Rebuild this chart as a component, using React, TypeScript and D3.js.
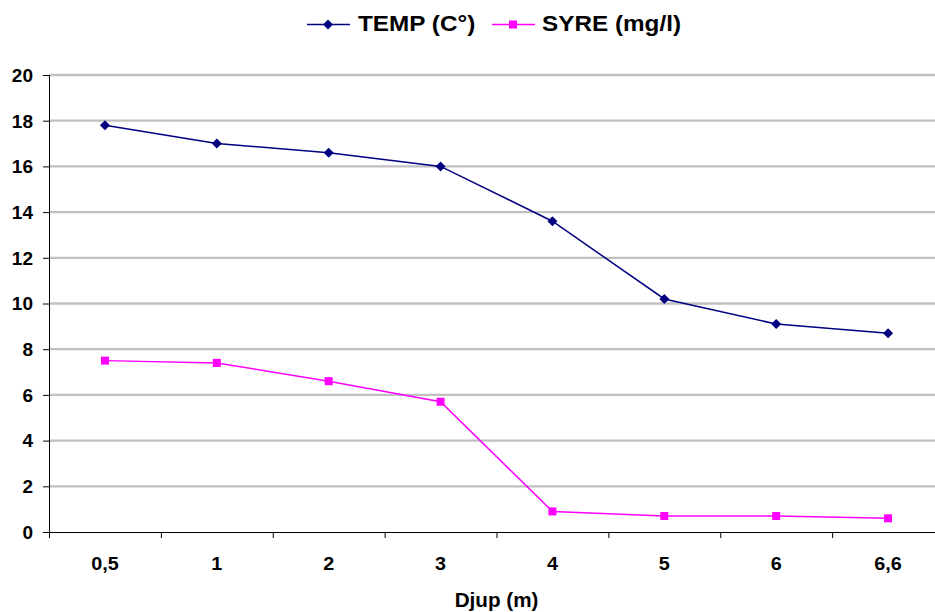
import React from "react";
import * as d3 from "d3";

const categories = ["0,5", "1", "2", "3", "4", "5", "6", "6,6"];
const tempValues = [17.8, 17.0, 16.6, 16.0, 13.6, 10.2, 9.1, 8.7];
const syreValues = [7.5, 7.4, 6.6, 5.7, 0.9, 0.7, 0.7, 0.6];
const yTicks = [0, 2, 4, 6, 8, 10, 12, 14, 16, 18, 20];
const seriesNames = ["TEMP (C°)", "SYRE (mg/l)"];
const xTitle = "Djup (m)";

const W = 935, H = 612;
const left = 49, right = 944, top = 75, bottom = 532;
const font = "'Liberation Sans', Arial, sans-serif";

function T(props: { x: number; y: number; sx: number; size: number; anchor?: string; dy?: string; children: React.ReactNode }) {
  const { x, y, sx, size, anchor, dy, children } = props;
  return (
    <g transform={`translate(${x},${y}) scale(${sx},1)`}>
      <text x={0} y={0} dy={dy} textAnchor={anchor || "start"} fontSize={size} fontWeight="bold">{children}</text>
    </g>
  );
}

export default function App() {
  const x = d3.scaleBand<string>().domain(categories).range([left, right]);
  const y = d3.scaleLinear().domain([0, 20]).range([bottom, top]);
  const cx = (c: string) => (x(c) as number) + x.bandwidth() / 2;
  const line = d3.line<number>().x((_, i) => cx(categories[i])).y((v) => y(v));
  const tickXs = categories.map((c) => x(c) as number).concat([right]);
  const diamond = (px: number, py: number, r: number) =>
    `M${px},${py - r}L${px + r},${py}L${px},${py + r}L${px - r},${py}Z`;
  return (
    <svg width={W} height={H} style={{ position: "absolute", left: 0, top: 0, background: "#fff" }} fontFamily={font}>
      {yTicks.filter((t) => t > 0).map((t) => (
        <line key={"g" + t} x1={left} x2={right} y1={y(t)} y2={y(t)} stroke="#C0C0C0" strokeWidth={2.3} />
      ))}
      <line x1={left + 0.5} x2={left + 0.5} y1={top} y2={bottom} stroke="#000" strokeWidth={1} />
      <line x1={left} x2={right} y1={bottom + 0.5} y2={bottom + 0.5} stroke="#000" strokeWidth={1} />
      {yTicks.map((t) => (
        <g key={"y" + t}>
          <line x1={43} x2={left} y1={y(t) + 0.5} y2={y(t) + 0.5} stroke="#000" />
          <T x={33} y={y(t)} dy="0.36em" sx={1.0} size={19} anchor="end">{t}</T>
        </g>
      ))}
      {tickXs.map((tx, i) => (
        <line key={"xt" + i} x1={tx + 0.5} x2={tx + 0.5} y1={bottom} y2={bottom + 6} stroke="#000" />
      ))}
      {categories.map((c) => (
        <T key={"xl" + c} x={cx(c)} y={569.5} sx={1.07} size={18.5} anchor="middle">{c}</T>
      ))}
      <T x={(left + right) / 2} y={606.5} sx={1.06} size={19.5} anchor="middle">{xTitle}</T>

      <path d={line(tempValues) as string} fill="none" stroke="#000080" strokeWidth={1.5} />
      {tempValues.map((v, i) => (
        <path key={"td" + i} d={diamond(cx(categories[i]), y(v), 5)} fill="#000080" />
      ))}
      <path d={line(syreValues) as string} fill="none" stroke="#FF00FF" strokeWidth={1.5} />
      {syreValues.map((v, i) => (
        <rect key={"ss" + i} x={cx(categories[i]) - 4} y={y(v) - 4} width={8} height={8} fill="#FF00FF" />
      ))}

      <g>
        <line x1={307} x2={350} y1={24.5} y2={24.5} stroke="#000080" strokeWidth={1.5} />
        <path d={diamond(328, 24.5, 5)} fill="#000080" />
        <T x={358} y={31} sx={1.13} size={21.5}>{seriesNames[0]}</T>
        <line x1={492} x2={535} y1={24.5} y2={24.5} stroke="#FF00FF" strokeWidth={1.5} />
        <rect x={509} y={20.5} width={8} height={8} fill="#FF00FF" />
        <T x={542} y={31} sx={1.13} size={21.5}>{seriesNames[1]}</T>
      </g>
    </svg>
  );
}
